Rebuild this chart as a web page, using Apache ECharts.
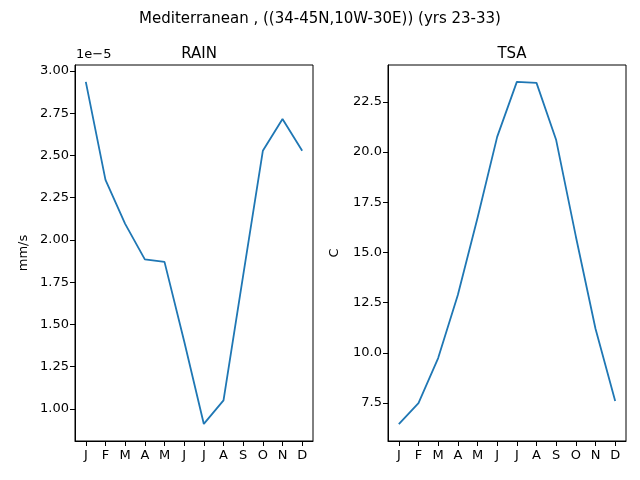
<!DOCTYPE html>
<html>
<head>
<meta charset="UTF-8">
<script src="https://cdn.jsdelivr.net/npm/echarts@6/dist/echarts.min.js"></script>
<style>body{margin:0}#main{width:640px;height:480px}</style>
</head>
<body>
<div id="main"></div>
<script>
var months = ['J', 'F', 'M', 'A', 'M', 'J', 'J', 'A', 'S', 'O', 'N', 'D'];
// RAIN in units of 1e-5 mm/s
var rain = [2.935, 2.355, 2.095, 1.885, 1.87, 1.40, 0.911, 1.05, 1.79, 2.527, 2.716, 2.527];
var tsa = [6.45, 7.5, 9.74, 12.88, 16.72, 20.76, 23.5, 23.45, 20.6, 15.8, 11.2, 7.6];
var rainTicks = [1.00, 1.25, 1.50, 1.75, 2.00, 2.25, 2.50, 2.75, 3.00];
var tsaTicks = [7.5, 10.0, 12.5, 15.0, 17.5, 20.0, 22.5];
var monthIdx = months.map(function (m, i) { return i; });

var font = 'DejaVu Sans';
var blue = '#1f77b4';

function xAx(gi) {
    return {
        type: 'value', gridIndex: gi, min: -0.55, max: 11.55,
        axisLine: { show: true, onZero: false, lineStyle: { color: '#000' } },
        splitLine: { show: false },
        axisTick: { show: true, customValues: monthIdx, length: 5, lineStyle: { color: '#000' } },
        axisLabel: { customValues: monthIdx, color: '#000', fontFamily: font, fontSize: 13, margin: 8,
            formatter: function (v) { return months[Math.round(v)]; } }
    };
}
function yAx(gi, min, max, ticks, dec, name, gap) {
    return {
        type: 'value', gridIndex: gi, min: min, max: max,
        name: name, nameLocation: 'middle', nameGap: gap, nameRotate: 90,
        nameTextStyle: { color: '#000', fontFamily: font, fontSize: 13 },
        axisLine: { show: true, onZero: false, lineStyle: { color: '#000' } },
        splitLine: { show: false },
        axisTick: { show: true, customValues: ticks, length: 5, lineStyle: { color: '#000' } },
        axisLabel: { customValues: ticks, color: '#000', fontFamily: font, fontSize: 13, margin: 6,
            formatter: function (v) { return v.toFixed(dec); } }
    };
}

var chart = echarts.init(document.getElementById('main'));
chart.setOption({
    animation: false,
    backgroundColor: '#fff',
    title: [
        { text: 'Mediterranean , ((34-45N,10W-30E)) (yrs 23-33)', left: 'center', top: 7,
          textStyle: { fontFamily: font, fontSize: 15, fontWeight: 'normal', color: '#000' } },
        { text: 'RAIN', left: 194, textAlign: 'center', top: 42,
          textStyle: { fontFamily: font, fontSize: 15, fontWeight: 'normal', color: '#000' } },
        { text: 'TSA', left: 507, textAlign: 'center', top: 42,
          textStyle: { fontFamily: font, fontSize: 15, fontWeight: 'normal', color: '#000' } }
    ],
    graphic: [
        { type: 'text', left: 76, top: 48, style: { text: '1e\u22125', font: '13px DejaVu Sans', fill: '#000' } }
    ],
    grid: [
        { left: 75, width: 238, top: 65, bottom: 39, show: true, borderColor: '#000', borderWidth: 1 },
        { left: 388, width: 238, top: 65, bottom: 39, show: true, borderColor: '#000', borderWidth: 1 }
    ],
    xAxis: [xAx(0), xAx(1)],
    yAxis: [
        yAx(0, 0.81, 3.035, rainTicks, 2, 'mm/s', 45),
        yAx(1, 5.61, 24.34, tsaTicks, 1, 'C', 47)
    ],
    series: [
        { type: 'line', xAxisIndex: 0, yAxisIndex: 0, showSymbol: false,
          lineStyle: { color: blue, width: 1.8 },
          data: rain.map(function (v, i) { return [i, v]; }) },
        { type: 'line', xAxisIndex: 1, yAxisIndex: 1, showSymbol: false,
          lineStyle: { color: blue, width: 1.8 },
          data: tsa.map(function (v, i) { return [i, v]; }) }
    ]
});
</script>
</body>
</html>
